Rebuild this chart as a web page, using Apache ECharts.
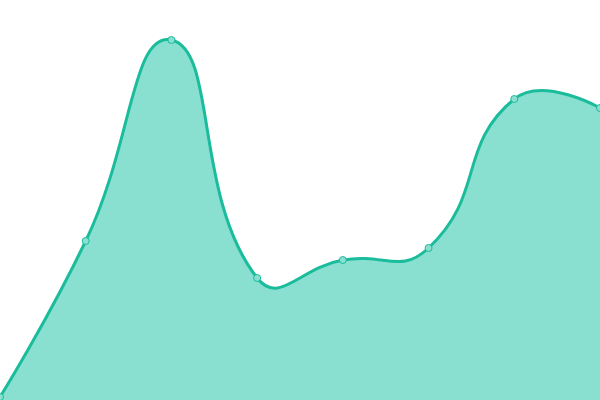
<!DOCTYPE html>
<html>
<head>
<meta charset="utf-8">
<script src="https://cdn.jsdelivr.net/npm/echarts@6/dist/echarts.min.js"></script>
<style>
  html, body { margin: 0; padding: 0; background: #fff; }
  #main { width: 600px; height: 400px; }
</style>
</head>
<body>
<div id="main"></div>
<script>
// categories and values
var categories = ['1', '2', '3', '4', '5', '6', '7', '8'];
var values = [3, 159, 360, 122, 140, 152, 301, 292];

var LINE = '#1abc9c';
var AREA = '#8ae0d0';
var SMOOTH = 0.5;

// bezier control points, unclamped (lets the curve overshoot like the reference)
function controlPoints(pts) {
  var cps = [];
  for (var i = 0; i < pts.length; i++) {
    var p = pts[i];
    if (i === 0 || i === pts.length - 1) {
      cps.push([p[0], p[1]]);
      continue;
    }
    var prev = pts[i - 1], next = pts[i + 1];
    var vx = (next[0] - prev[0]) * SMOOTH;
    var vy = (next[1] - prev[1]) * SMOOTH;
    var d0 = Math.hypot(p[0] - prev[0], p[1] - prev[1]);
    var d1 = Math.hypot(p[0] - next[0], p[1] - next[1]);
    var sum = d0 + d1;
    if (sum) { d0 /= sum; d1 /= sum; }
    cps.push([p[0] - vx * d0, p[1] - vy * d0]);
    cps.push([p[0] + vx * d1, p[1] + vy * d1]);
  }
  return cps;
}

function curvePath(pts) {
  var cps = controlPoints(pts);
  var d = 'M' + pts[0][0] + ' ' + pts[0][1];
  for (var i = 0; i < pts.length - 1; i++) {
    var a = cps[2 * i], b = cps[2 * i + 1], p = pts[i + 1];
    d += ' C' + a[0] + ' ' + a[1] + ' ' + b[0] + ' ' + b[1] + ' ' + p[0] + ' ' + p[1];
  }
  return d;
}

function renderCurve(params, api) {
  if (params.dataIndex !== 0) return null;
  var pts = values.map(function (v, i) { return api.coord([i, v]); });
  var base = api.coord([0, 0])[1];
  var line = curvePath(pts);
  var area = line + ' L' + pts[pts.length - 1][0] + ' ' + base + ' L' + pts[0][0] + ' ' + base + ' Z';
  return {
    type: 'group',
    children: [
      { type: 'path', shape: { pathData: area }, style: { fill: AREA, stroke: null } },
      { type: 'path', shape: { pathData: line }, style: { fill: null, stroke: LINE, lineWidth: 3 } }
    ]
  };
}

var chart = echarts.init(document.getElementById('main'));

var option = {
  animation: false,
  grid: { left: 0, right: 0, top: 0, bottom: 0 },
  xAxis: {
    type: 'category',
    boundaryGap: false,
    data: categories,
    show: false
  },
  yAxis: {
    type: 'value',
    min: 0,
    max: 400,
    show: false
  },
  series: [
    {
      type: 'custom',
      renderItem: renderCurve,
      data: values,
      clip: false,
      silent: true
    },
    {
      type: 'scatter',
      data: values,
      symbol: 'circle',
      symbolSize: 7,
      itemStyle: { color: AREA, borderColor: LINE, borderWidth: 1, opacity: 1 }
    }
  ]
};

chart.setOption(option);
</script>
</body>
</html>
